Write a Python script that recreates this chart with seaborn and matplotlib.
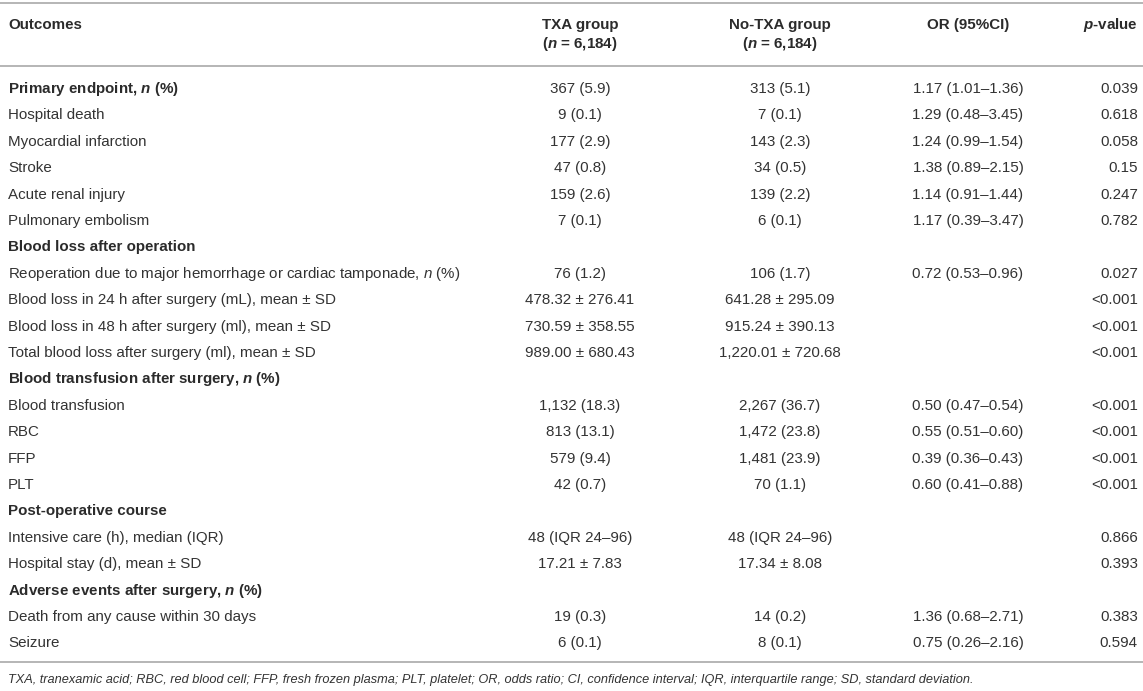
import matplotlib
matplotlib.use("Agg")
import matplotlib.pyplot as plt
import seaborn as sns

# ---------------- data ----------------
col_headers = ["Outcomes", "TXA group", "No-TXA group", "OR (95%CI)", r"$\mathbfit{p}$-value"]
col_subheaders = ["", r"($\mathbfit{n}$ = 6,184)", r"($\mathbfit{n}$ = 6,184)", "", ""]

outcomes = [
    r"Primary endpoint, $\mathbfit{n}$ (%)",
    "Hospital death",
    "Myocardial infarction",
    "Stroke",
    "Acute renal injury",
    "Pulmonary embolism",
    "Blood loss after operation",
    r"Reoperation due to major hemorrhage or cardiac tamponade, $n$ (%)",
    "Blood loss in 24 h after surgery (mL), mean ± SD",
    "Blood loss in 48 h after surgery (ml), mean ± SD",
    "Total blood loss after surgery (ml), mean ± SD",
    r"Blood transfusion after surgery, $\mathbfit{n}$ (%)",
    "Blood transfusion",
    "RBC",
    "FFP",
    "PLT",
    "Post-operative course",
    "Intensive care (h), median (IQR)",
    "Hospital stay (d), mean ± SD",
    r"Adverse events after surgery, $\mathbfit{n}$ (%)",
    "Death from any cause within 30 days",
    "Seizure",
]
is_section = [True, False, False, False, False, False,
              True, False, False, False, False,
              True, False, False, False, False,
              True, False, False,
              True, False, False]

txa = ["367 (5.9)", "9 (0.1)", "177 (2.9)", "47 (0.8)", "159 (2.6)", "7 (0.1)",
       "", "76 (1.2)", "478.32 ± 276.41", "730.59 ± 358.55", "989.00 ± 680.43",
       "", "1,132 (18.3)", "813 (13.1)", "579 (9.4)", "42 (0.7)",
       "", "48 (IQR 24–96)", "17.21 ± 7.83",
       "", "19 (0.3)", "6 (0.1)"]
no_txa = ["313 (5.1)", "7 (0.1)", "143 (2.3)", "34 (0.5)", "139 (2.2)", "6 (0.1)",
          "", "106 (1.7)", "641.28 ± 295.09", "915.24 ± 390.13", "1,220.01 ± 720.68",
          "", "2,267 (36.7)", "1,472 (23.8)", "1,481 (23.9)", "70 (1.1)",
          "", "48 (IQR 24–96)", "17.34 ± 8.08",
          "", "14 (0.2)", "8 (0.1)"]
or_ci = ["1.17 (1.01–1.36)", "1.29 (0.48–3.45)", "1.24 (0.99–1.54)", "1.38 (0.89–2.15)",
         "1.14 (0.91–1.44)", "1.17 (0.39–3.47)",
         "", "0.72 (0.53–0.96)", "", "", "",
         "", "0.50 (0.47–0.54)", "0.55 (0.51–0.60)", "0.39 (0.36–0.43)", "0.60 (0.41–0.88)",
         "", "", "",
         "", "1.36 (0.68–2.71)", "0.75 (0.26–2.16)"]
p_values = ["0.039", "0.618", "0.058", "0.15", "0.247", "0.782",
            "", "0.027", "<0.001", "<0.001", "<0.001",
            "", "<0.001", "<0.001", "<0.001", "<0.001",
            "", "0.866", "0.393",
            "", "0.383", "0.594"]

footnote = ("TXA, tranexamic acid; RBC, red blood cell; FFP, fresh frozen plasma; PLT, platelet; "
            "OR, odds ratio; CI, confidence interval; IQR, interquartile range; SD, standard deviation.")

# ---------------- style ----------------
sns.set_theme(style="white")
plt.rcParams["font.family"] = ["Liberation Sans", "DejaVu Sans"]
plt.rcParams["mathtext.fontset"] = "custom"
plt.rcParams["mathtext.rm"] = "Liberation Sans"
plt.rcParams["mathtext.it"] = "Liberation Sans:italic"
plt.rcParams["mathtext.bf"] = "Liberation Sans:bold"
plt.rcParams["mathtext.bfit"] = "Liberation Sans:italic:bold"

W, H = 1143, 691
fig = plt.figure(figsize=(W / 100, H / 100), dpi=100)
ax = fig.add_axes([0, 0, 1, 1])
ax.set_xlim(0, W)
ax.set_ylim(H, 0)
ax.axis("off")

text_color = "#2b2b2b"
body_color = "#333333"
line_color = "#b5b5b5"
fs = 10.9

# column anchors (x, ha)
col_x = [8, 580, 780, 968, 1138]
col_ha = ["left", "center", "center", "center", "right"]

# rules
for yy in (3, 66, 662):
    ax.hlines(yy, 0, W, color=line_color, lw=1.4)

# header
for j in range(5):
    ax.text(col_x[j], 25, col_headers[j], ha=col_ha[j], va="center",
            fontsize=fs, fontweight="bold", color=text_color)
    if col_subheaders[j]:
        ax.text(col_x[j], 44, col_subheaders[j], ha=col_ha[j], va="center",
                fontsize=fs, fontweight="bold", color=text_color)

# body
y0, dy = 89, 26.4
for i, name in enumerate(outcomes):
    y = y0 + i * dy
    if is_section[i]:
        ax.text(col_x[0], y, name, ha="left", va="center", fontsize=fs,
                fontweight="bold", color=text_color)
    else:
        ax.text(col_x[0], y, name, ha="left", va="center", fontsize=fs,
                color=body_color)
    for j, col in enumerate((txa, no_txa, or_ci, p_values), start=1):
        if col[i]:
            ax.text(col_x[j], y, col[i], ha=col_ha[j], va="center",
                    fontsize=fs, color=body_color)

ax.text(8, 680, footnote, ha="left", va="center", fontsize=9.2,
        style="italic", color=body_color)

fig.savefig("out.png", dpi=100)
